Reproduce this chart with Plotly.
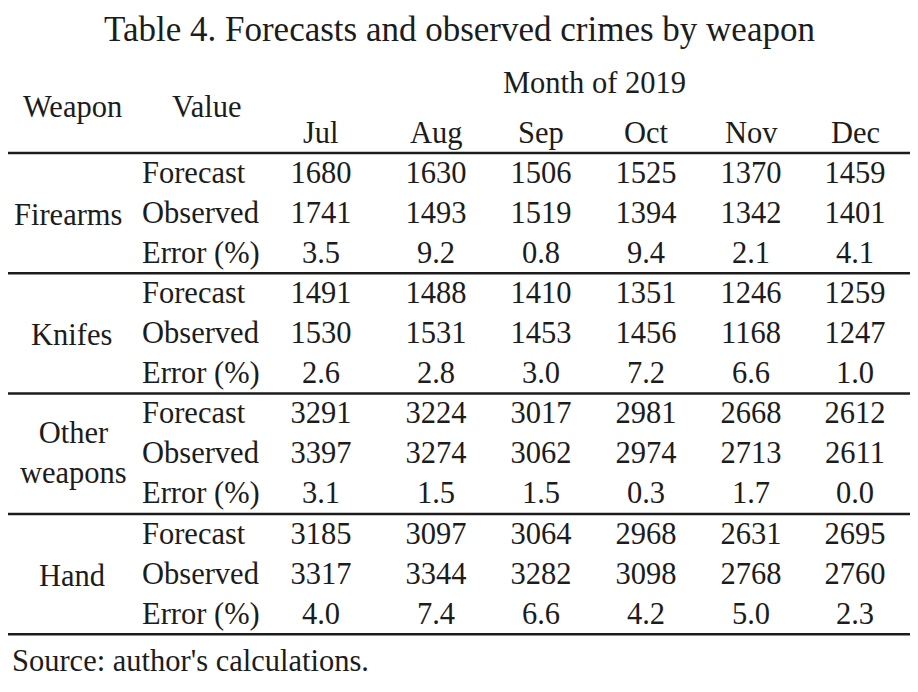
import plotly.graph_objects as go

# table content
title = "Table 4. Forecasts and observed crimes by weapon"
source_note = "Source: author's calculations."
months = ["Jul", "Aug", "Sep", "Oct", "Nov", "Dec"]
weapons = ["Firearms", "Knifes", "Other<br>weapons", "Hand"]
value_labels = ["Forecast", "Observed", "Error (%)"]

firearms_forecast = [1680, 1630, 1506, 1525, 1370, 1459]
firearms_observed = [1741, 1493, 1519, 1394, 1342, 1401]
firearms_error = [3.5, 9.2, 0.8, 9.4, 2.1, 4.1]
knifes_forecast = [1491, 1488, 1410, 1351, 1246, 1259]
knifes_observed = [1530, 1531, 1453, 1456, 1168, 1247]
knifes_error = [2.6, 2.8, 3.0, 7.2, 6.6, 1.0]
other_forecast = [3291, 3224, 3017, 2981, 2668, 2612]
other_observed = [3397, 3274, 3062, 2974, 2713, 2611]
other_error = [3.1, 1.5, 1.5, 0.3, 1.7, 0.0]
hand_forecast = [3185, 3097, 3064, 2968, 2631, 2695]
hand_observed = [3317, 3344, 3282, 3098, 2768, 2760]
hand_error = [4.0, 7.4, 6.6, 4.2, 5.0, 2.3]

groups = [
    (firearms_forecast, firearms_observed, firearms_error),
    (knifes_forecast, knifes_observed, knifes_error),
    (other_forecast, other_observed, other_error),
    (hand_forecast, hand_observed, hand_error),
]

# layout (axis units = page pixels; page body has an 8px margin)
W, H = 918, 692
PAD = 8
FONT = "Liberation Serif, Times New Roman, serif"
INK = "#1c1c1c"
SIZE = 30.5
col_x = [321, 436, 541, 646, 751, 855]
weapon_x = [68, 71, 73, 72]
weapon_dy = [0, 0, -3, 0]  # two-line label sits a touch higher
value_x = 142
row0_y = 175
row_h = 40.1
header_line_y = 153
line_x0, line_x1 = 6, 913

fig = go.Figure()

# body cells
xs, ys, txt = [], [], []
lx, ly, ltxt = [], [], []
for g, (fc, ob, er) in enumerate(groups):
    for r, vals in enumerate([fc, ob, er]):
        i = g * 3 + r
        y = row0_y + row_h * i
        for c, v in enumerate(vals):
            xs.append(col_x[c])
            ys.append(y)
            txt.append(f"{v:.1f}" if r == 2 else str(v))
        lx.append(value_x)
        ly.append(y)
        ltxt.append(value_labels[r])

fig.add_trace(go.Scatter(x=xs, y=ys, text=txt, mode="text", textposition="middle center",
                         textfont=dict(family=FONT, size=SIZE, color=INK), hoverinfo="skip"))
fig.add_trace(go.Scatter(x=lx, y=ly, text=ltxt, mode="text", textposition="middle right",
                         textfont=dict(family=FONT, size=SIZE, color=INK), hoverinfo="skip"))

annotations = []
for g, name in enumerate(weapons):
    y = row0_y + row_h * (g * 3 + 1) + weapon_dy[g]
    annotations.append(dict(x=weapon_x[g], y=y, text=name, showarrow=False,
                            xanchor="center", yanchor="middle", align="center"))

# header
annotations.append(dict(x=594, y=83, text="Month of 2019", showarrow=False,
                        xanchor="center", yanchor="middle"))
for c, m in enumerate(months):
    annotations.append(dict(x=col_x[c], y=133, text=m, showarrow=False,
                            xanchor="center", yanchor="middle"))
annotations.append(dict(x=72, y=107, text="Weapon", showarrow=False, xanchor="center", yanchor="middle"))
annotations.append(dict(x=206, y=107, text="Value", showarrow=False, xanchor="center", yanchor="middle"))
annotations.append(dict(x=459, y=29, text=title, showarrow=False, xanchor="center", yanchor="middle",
                        font=dict(family=FONT, size=35, color=INK)))
annotations.append(dict(x=10, y=661, text=source_note, showarrow=False, xanchor="left", yanchor="middle"))

shapes = []
for g in range(len(groups) + 1):
    y = header_line_y + row_h * 3 * g
    shapes.append(dict(type="line", x0=line_x0, x1=line_x1, y0=y, y1=y, xref="x", yref="y",
                       line=dict(color=INK, width=2.5)))

fig.update_layout(
    width=W, height=H,
    margin=dict(l=0, r=0, t=0, b=0),
    paper_bgcolor="white", plot_bgcolor="white",
    showlegend=False,
    annotations=annotations,
    shapes=shapes,
    font=dict(family=FONT, size=SIZE, color=INK),
)
fig.update_xaxes(range=[PAD, W + PAD], visible=False, fixedrange=True)
fig.update_yaxes(range=[H + PAD, PAD], visible=False, fixedrange=True)

fig.write_html("out.html")
